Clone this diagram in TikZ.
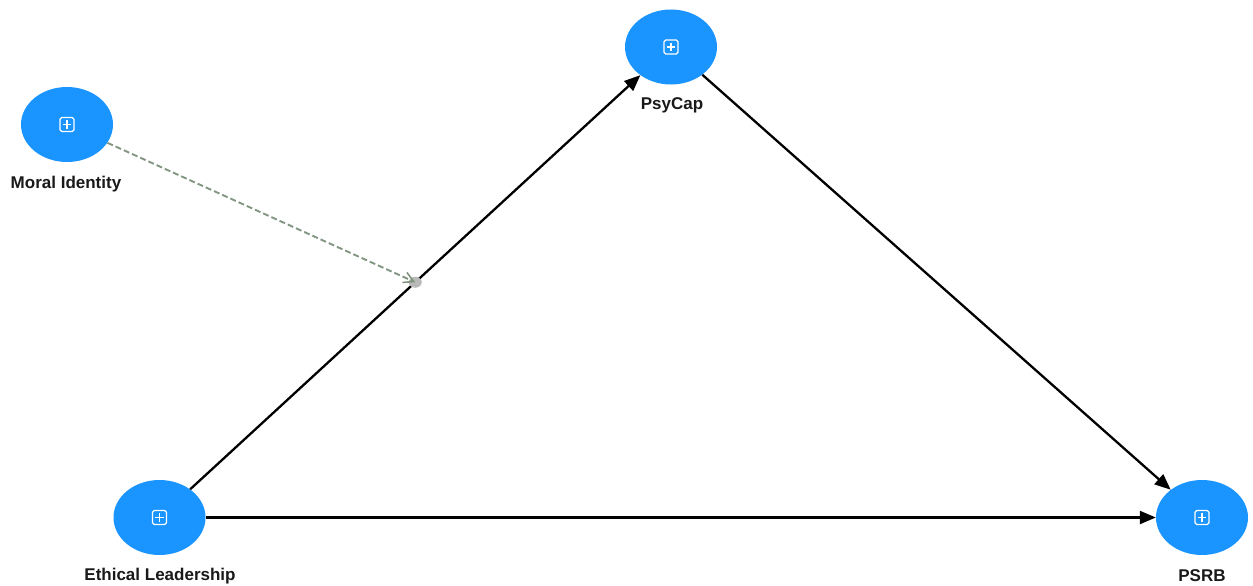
\documentclass[tikz,border=0pt]{standalone}
\usepackage{fontspec}
\setmainfont{Liberation Sans}
\usetikzlibrary{arrows.meta,calc,shapes.geometric}
\definecolor{nodeblue}{RGB}{26,148,255}
\definecolor{modgray}{RGB}{130,150,130}
\tikzset{
  construct/.style={ellipse, fill=nodeblue, draw=none, minimum width=92pt, minimum height=75pt, inner sep=0pt},
  lbl/.style={font=\fontsize{17}{19}\selectfont\bfseries, text=black!90, inner sep=0pt},
  causal/.style={line width=2.3pt, -{Triangle[length=16pt,width=13pt]}},
  modpath/.style={modgray, line width=1.9pt, dash pattern=on 6pt off 3pt, -{Straight Barb[length=10pt,width=11pt,line width=1.6pt]}},
}
\newcommand{\plusicon}[1]{%
  \draw[white, line width=1.3pt, rounded corners=1.8pt] ($(#1)+(-7pt,-7pt)$) rectangle ($(#1)+(7pt,7pt)$);
  \draw[white, line width=1.3pt] ($(#1)+(-4.2pt,0)$) -- ($(#1)+(4.2pt,0)$);
  \draw[white, line width=1.3pt] ($(#1)+(0,-4.2pt)$) -- ($(#1)+(0,4.2pt)$);
}
\begin{document}
\begin{tikzpicture}[x=1pt,y=-1pt]
\useasboundingbox (0,0) rectangle (1253,586);
\node[construct] (mi) at (67,124.5) {};
\node[construct] (pc) at (671,47) {};
\node[construct] (el) at (159.5,517.5) {};
\node[construct] (ps) at (1202,517.5) {};
\plusicon{mi}
\plusicon{pc}
\plusicon{el}
\plusicon{ps}
\node[lbl] (mil) at (66,184) {Moral Identity};
\node[lbl] (pcl) at (672,105) {PsyCap};
\node[lbl] (ell) at (160,576) {Ethical Leadership};
\node[lbl] (psl) at (1202,576) {PSRB};
\draw[causal] (el) -- coordinate[pos=0.5] (mid) (pc);
\draw[causal] (pc) -- (ps);
\draw[causal] (el) -- (ps);
\fill[gray!55] (mid) ellipse (6.5pt and 5.5pt);
\draw[modpath] (mi) -- (mid);
\end{tikzpicture}
\end{document}
